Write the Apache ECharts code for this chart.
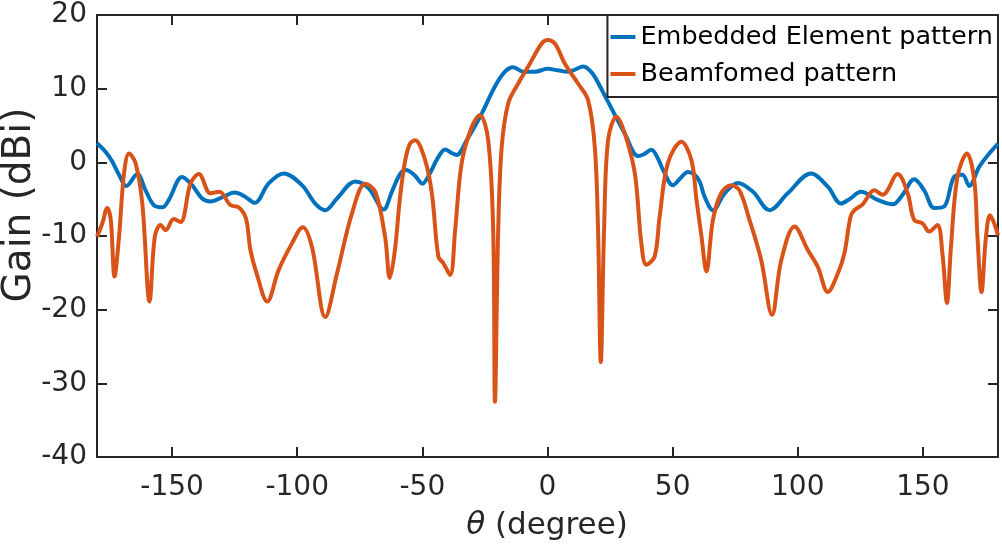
<!DOCTYPE html>
<html>
<head>
<meta charset="UTF-8" />
<title>Gain pattern</title>
<style>
* { margin: 0; padding: 0; }
html, body { width: 1002px; height: 551px; background: #fff; }
#chart { width: 1002px; height: 551px; }
</style>
</head>
<body>
<div id="chart"></div>
<script src="https://cdn.jsdelivr.net/npm/echarts@6/dist/echarts.min.js"></script>
<script>
// angles (degree) and gain (dBi)
let embAngle = [-180, -176.5, -173.9, -171.2, -168.3, -163.9, -160.6, -157.3, -153.9, -151.3, -146, -142, -138, -134.7, -130, -125, -120.7, -117, -111.4, -105.4, -98.1, -92.8, -88.8, -84.1, -76.8, -71.5, -65.5, -62.2, -58.9, -56.5, -53, -50, -47, -44, -40.9, -38.5, -36.3, -32.3, -26.3, -21, -17, -13.7, -9.7, -5, 0, 4, 8.3, 11, 14.2, 16.5, 18.9, 24.2, 30.9, 36.2, 38.5, 41.5, 44, 46.2, 50.1, 53, 56.1, 58.5, 60.8, 62.8, 66.1, 70.8, 76.1, 82.1, 88.7, 96, 105.3, 112, 117.3, 120.6, 125.3, 131.9, 137.9, 141.9, 146.5, 150.5, 154.5, 158.5, 162.5, 165.8, 168.5, 172.5, 176, 180]
let embGain = [2.6, 1.4, 0.1, -1.7, -3.2, -1.6, -3.8, -5.8, -6.1, -5.1, -2.0, -3.1, -4.9, -5.3, -4.75, -4.1, -4.7, -5.5, -2.85, -1.5, -3.1, -5.6, -6.5, -4.9, -2.6, -3.5, -6.4, -4.0, -1.6, -1.05, -1.8, -2.9, -1.5, 0.5, 1.75, 1.3, 1.0, 3.0, 6.6, 10.3, 12.3, 12.9, 12.3, 12.3, 12.7, 12.5, 12.3, 12.6, 13.0, 12.6, 11.6, 8.2, 3.9, 0.85, 1.1, 1.7, 0.6, -1.05, -3.1, -2.2, -1.3, -1.6, -2.6, -4.7, -6.5, -4.2, -2.8, -4.0, -6.5, -4.2, -1.5, -3.3, -5.6, -5.0, -4.0, -5.1, -5.7, -4.4, -2.3, -3.8, -6.2, -6.0, -1.95, -1.7, -3.2, -0.6, 1.0, 2.5]

let beamAngle = [-180, -177.9, -175.9, -174.5, -173, -171.2, -169.2, -167.2, -164.6, -161.9, -159, -156.9, -154.6, -152.6, -149.3, -146.6, -142.6, -139.3, -134.7, -131.1, -126.7, -123.4, -120.5, -118.7, -116.2, -112, -107.4, -102.1, -97.8, -94.1, -88.8, -84.1, -78.1, -72.8, -68.8, -64.9, -63, -61, -59, -57, -55, -52.9, -48.9, -46.2, -43.6, -41.6, -38.9, -36.9, -34.3, -30.3, -27, -23.7, -21.7, -21, -19.7, -18.3, -15.7, -11.7, -7.7, -2.4, 0, 3, 6.9, 12.2, 16.2, 18.9, 20.2, 21.3, 22.6, 24.2, 27.6, 30.9, 34.9, 37.5, 39.5, 42.8, 44.8, 48.1, 53.5, 57.5, 59.5, 61.5, 63.5, 66.1, 69.4, 73.4, 76.7, 80.7, 85.4, 89.7, 93.4, 98.7, 104, 108, 112, 116, 118.6, 121, 122.6, 125.9, 130.6, 133.9, 139.9, 143.9, 146.5, 149.9, 152.5, 155.8, 157.8, 159.6, 161.2, 163.8, 167.6, 170.5, 171.8, 173.4, 175.2, 176.8, 178.5, 180]
let beamGain = [-10.1, -8.3, -6.2, -7.8, -15.5, -10.1, -1.5, 1.2, -0.1, -5.6, -18.9, -10.1, -8.5, -9.2, -7.7, -8.1, -2.85, -1.6, -4.2, -4.0, -5.8, -6.1, -7.6, -11.9, -15.1, -18.9, -14.6, -11.0, -8.8, -11.5, -21.0, -15.1, -6.9, -2.9, -4.0, -10.1, -15.7, -12, -5, 0, 2.5, 3.0, 0.3, -4.2, -12.8, -13.7, -15.3, -9.2, -0.1, 4.8, 6.4, 3.0, -9.2, -32.5, -9.2, 2.1, 8.0, 10.7, 13.0, 16.1, 16.6, 16.1, 13.4, 10.7, 8.45, 2.1, -9.2, -27.1, -9.2, 3.0, 6.2, 3.9, -1.5, -11.0, -13.9, -12.8, -7.4, -0.1, 2.8, 0.3, -5, -10, -14.8, -7.8, -4.2, -3.1, -3.8, -7.8, -13.3, -20.7, -13.3, -8.7, -11.9, -14.2, -17.6, -15.1, -12.4, -7.5, -6.5, -5.7, -3.8, -4.4, -1.6, -4.2, -7.8, -8.3, -9.4, -8.5, -12.4, -19.1, -11.5, -1.95, 1.2, -2.4, -10.1, -17.6, -10.1, -7.2, -8.3, -9.9]

let xTicks = [-150, -100, -50, 0, 50, 100, 150]
let seriesNames = ['Embedded Element pattern', 'Beamfomed pattern']

function pairs(xs, ys) {
  return xs.map((x, i) => [x, ys[i]])
}

let font = '"DejaVu Sans", "Liberation Sans", Arial, sans-serif'
let ink = '#262626'

function boxLine() {
  return { show: true, onZero: false, lineStyle: { color: ink, width: 2 } }
}
function boxTick(values) {
  let t = { show: true, inside: true, length: 10, lineStyle: { color: ink, width: 2 } }
  if (values) t.customValues = values.slice()
  return t
}

let chart = echarts.init(document.getElementById('chart'))

let option = {
  backgroundColor: '#fff',
  animation: false,
  grid: { left: 97, right: 4, top: 15, bottom: 94, outerBoundsMode: 'none' },
  legend: {
    data: seriesNames,
    orient: 'vertical',
    right: 4,
    top: 15,
    icon: 'rect',
    itemWidth: 25,
    itemHeight: 4,
    itemGap: 11,
    padding: [9, 5, 10, 3],
    borderColor: ink,
    borderWidth: 2,
    backgroundColor: '#fff',
    textStyle: { fontFamily: font, fontSize: 25.5, color: '#000' }
  },
  // axis titles
  graphic: [
    {
      type: 'text',
      x: 547, y: 526,
      style: {
        text: '{i|θ} (degree)',
        font: '31px ' + font,
        fill: ink,
        align: 'center',
        verticalAlign: 'middle',
        rich: { i: { fontFamily: font, fontSize: 31, fontStyle: 'italic', fill: ink } }
      }
    },
    {
      type: 'text',
      x: 20, y: 205,
      rotation: Math.PI / 2,
      style: {
        text: 'Gain (dBi)',
        font: '39px ' + font,
        fill: ink,
        align: 'center',
        verticalAlign: 'middle'
      }
    }
  ],
  xAxis: [
    {
      type: 'value', min: -180, max: 180, position: 'bottom',
      axisLine: boxLine(),
      axisTick: boxTick(xTicks),
      splitLine: { show: false },
      axisLabel: { customValues: xTicks.slice(), margin: 17, fontFamily: font, fontSize: 28, color: ink }
    },
    {
      type: 'value', min: -180, max: 180, position: 'top',
      axisLine: boxLine(),
      axisTick: boxTick(xTicks),
      splitLine: { show: false },
      axisLabel: { show: false }
    }
  ],
  yAxis: [
    {
      type: 'value', min: -40, max: 20, interval: 10, position: 'left',
      axisLine: boxLine(),
      axisTick: boxTick(),
      splitLine: { show: false },
      axisLabel: { margin: 10, fontFamily: font, fontSize: 28, color: ink }
    },
    {
      type: 'value', min: -40, max: 20, interval: 10, position: 'right',
      axisLine: boxLine(),
      axisTick: boxTick(),
      splitLine: { show: false },
      axisLabel: { show: false }
    }
  ],
  series: [
    {
      name: seriesNames[0],
      type: 'line',
      data: pairs(embAngle, embGain),
      showSymbol: false,
      smooth: 0.35,
      color: '#0072BD',
      lineStyle: { width: 4, color: '#0072BD' }
    },
    {
      name: seriesNames[1],
      type: 'line',
      data: pairs(beamAngle, beamGain),
      showSymbol: false,
      smooth: 0.35,
      color: '#D95319',
      lineStyle: { width: 4, color: '#D95319' }
    }
  ]
}

chart.setOption(option)
</script>
</body>
</html>
